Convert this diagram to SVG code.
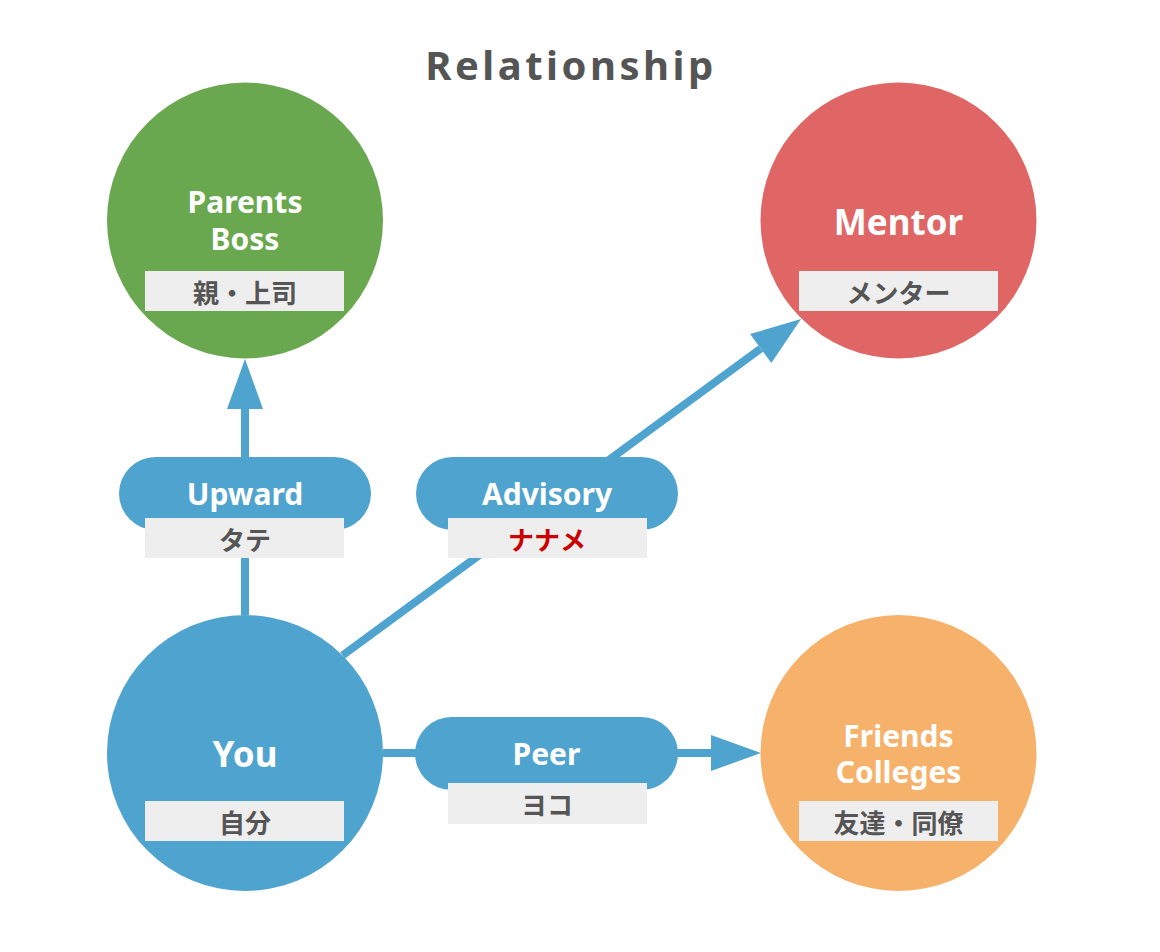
<svg xmlns="http://www.w3.org/2000/svg" width="1160" height="952" viewBox="0 0 1160 952">
<style>
text { font-family: "Noto Sans", "Noto Sans CJK JP", sans-serif; font-weight: 700; text-anchor: middle; }
.title { font-size: 40px; fill: #555555; letter-spacing: 3.5px; }
.w30 { font-size: 30px; fill: #ffffff; }
.w36 { font-size: 35px; fill: #ffffff; }
.jp { font-family: "Noto Sans CJK JP", "Noto Sans", sans-serif; font-size: 26px; fill: #555555; dominant-baseline: central; }
.jp.red { fill: #CC0000; }
.lbl { fill: #EEEEEE; }
.conn { stroke: #4FA3CF; stroke-width: 8; fill: none; marker-end: url(#arrow); }
.pill { fill: #4FA3CF; }
</style>
<defs>
<marker id="arrow" viewBox="0 -18 50 36" markerWidth="50" markerHeight="36" refX="0" refY="0" markerUnits="userSpaceOnUse" orient="auto" overflow="visible">
<path d="M0,-18 L50,0 L0,18 Z" fill="#4FA3CF"/>
</marker>
</defs>
<rect width="1160" height="952" fill="#ffffff"/>
<text class="title" x="571" y="80">Relationship</text>

<g id="connectors">
<line class="conn" x1="245" y1="615" x2="245" y2="409"/>
<line class="conn" x1="342.6" y1="655.4" x2="760.7" y2="348.6"/>
<line class="conn" x1="383" y1="753" x2="711" y2="753"/>
</g>

<g id="parents">
<circle cx="245" cy="220.5" r="138" fill="#6AA84F"/>
<text class="w30" x="245" y="213">Parents</text>
<text class="w30" x="245" y="250">Boss</text>
<rect class="lbl" x="145" y="271" width="199" height="40"/>
<text class="jp" x="245" y="291">親・上司</text>
</g>

<g id="mentor">
<circle cx="898.5" cy="220.5" r="138" fill="#E06666"/>
<text class="w36" x="898.5" y="235">Mentor</text>
<rect class="lbl" x="799" y="271" width="199" height="40"/>
<text class="jp" x="898.5" y="291">メンター</text>
</g>

<g id="you">
<circle cx="245" cy="753" r="138" fill="#4FA3CF"/>
<text class="w36" x="245" y="767">You</text>
<rect class="lbl" x="145" y="801" width="199" height="40"/>
<text class="jp" x="245" y="821">自分</text>
</g>

<g id="friends">
<circle cx="898.5" cy="753" r="138" fill="#F6B26B"/>
<text class="w30" x="898.5" y="747">Friends</text>
<text class="w30" x="898.5" y="783">Colleges</text>
<rect class="lbl" x="799" y="801" width="199" height="40"/>
<text class="jp" x="898.5" y="821">友達・同僚</text>
</g>

<g id="upward">
<rect class="pill" x="119" y="457" width="252" height="73" rx="36.5"/>
<text class="w30" x="245" y="505">Upward</text>
<rect class="lbl" x="145" y="518" width="199" height="40"/>
<text class="jp" x="245" y="538">タテ</text>
</g>

<g id="advisory">
<rect class="pill" x="416" y="457" width="262" height="73" rx="36.5"/>
<text class="w30" x="547" y="505">Advisory</text>
<rect class="lbl" x="448" y="518" width="199" height="40"/>
<text class="jp red" x="547" y="538">ナナメ</text>
</g>

<g id="peer">
<rect class="pill" x="415" y="717" width="263" height="73" rx="36.5"/>
<text class="w30" x="546.5" y="765">Peer</text>
<rect class="lbl" x="448" y="783" width="199" height="41"/>
<text class="jp" x="547" y="803">ヨコ</text>
</g>
</svg>
